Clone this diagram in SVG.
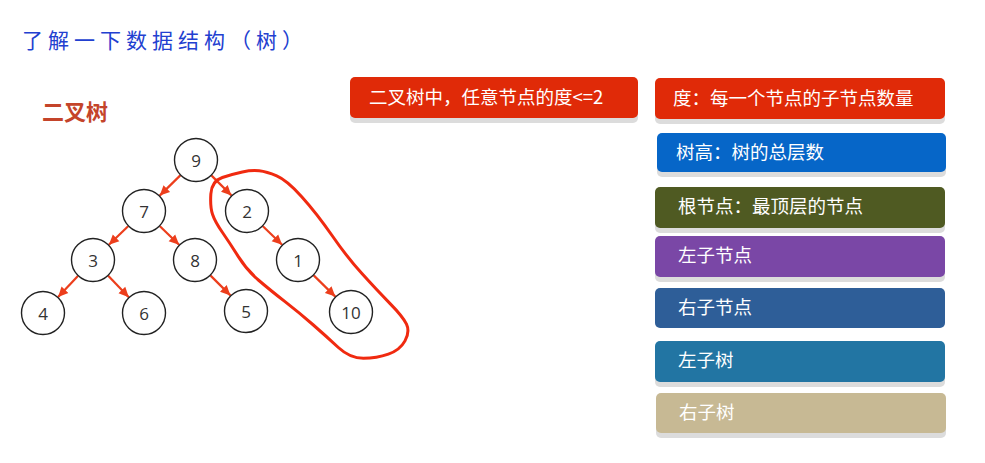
<svg xmlns="http://www.w3.org/2000/svg" width="985" height="463" viewBox="0 0 985 463">
<style>
.node circle{fill:#fff;stroke:#222;stroke-width:1.4}
.node text{font-family:"Open Sans","DejaVu Sans",sans-serif;font-size:17px;fill:#333;text-anchor:middle;dominant-baseline:central}
.edge{stroke:#ec3e1c;stroke-width:2.2;fill:none}
.box text{font-family:"Noto Sans CJK SC","Noto Sans",sans-serif;font-size:18.5px;fill:#fff}
.shadow{fill:#dcdcdc}
</style>
<defs>
<marker id="ah" markerWidth="11" markerHeight="11" refX="10" refY="5.5" orient="auto" markerUnits="userSpaceOnUse">
<path d="M0,0.8 L10,5.5 L0,10.2 Z" fill="#ec3e1c"/>
</marker>
</defs>
<rect width="985" height="463" fill="#fff"/>
<text x="22" y="48" font-family="Noto Sans CJK SC, sans-serif" font-size="21" letter-spacing="5" fill="#2240d0">了解一下数据结构（树）</text>
<text x="42" y="120" font-family="Noto Sans CJK SC, sans-serif" font-size="22" font-weight="bold" fill="#c4442a">二叉树</text>

<g id="connectors">
<line class="edge" x1="180.3" y1="175.4" x2="159.7" y2="195.6" marker-end="url(#ah)"/>
<line class="edge" x1="211.6" y1="175.6" x2="231.4" y2="195.4" marker-end="url(#ah)"/>
<line class="edge" x1="128.1" y1="226.2" x2="108.9" y2="244.8" marker-end="url(#ah)"/>
<line class="edge" x1="159.9" y1="226.2" x2="179.1" y2="244.8" marker-end="url(#ah)"/>
<line class="edge" x1="77.9" y1="276" x2="58.1" y2="297" marker-end="url(#ah)"/>
<line class="edge" x1="108.2" y1="275.8" x2="128.8" y2="297.2" marker-end="url(#ah)"/>
<line class="edge" x1="210.6" y1="275.6" x2="230.4" y2="295.4" marker-end="url(#ah)"/>
<line class="edge" x1="262.9" y1="226.2" x2="282.1" y2="244.8" marker-end="url(#ah)"/>
<line class="edge" x1="313.7" y1="275.4" x2="335.3" y2="296.6" marker-end="url(#ah)"/>
</g>

<g id="n9" class="node"><circle cx="196" cy="160" r="21.5"/><text x="196" y="160">9</text></g>
<g id="n7" class="node"><circle cx="144" cy="211" r="21.5"/><text x="144" y="211">7</text></g>
<g id="n2" class="node"><circle cx="247" cy="211" r="21.5"/><text x="247" y="211">2</text></g>
<g id="n3" class="node"><circle cx="93" cy="260" r="21.5"/><text x="93" y="260">3</text></g>
<g id="n8" class="node"><circle cx="195" cy="260" r="21.5"/><text x="195" y="260">8</text></g>
<g id="n1" class="node"><circle cx="298" cy="260" r="21.5"/><text x="298" y="260">1</text></g>
<g id="n4" class="node"><circle cx="43" cy="313" r="21.5"/><text x="43" y="313">4</text></g>
<g id="n6" class="node"><circle cx="144" cy="313" r="21.5"/><text x="144" y="313">6</text></g>
<g id="n5" class="node"><circle cx="246" cy="311" r="21.5"/><text x="246" y="311">5</text></g>
<g id="n10" class="node"><circle cx="351" cy="312" r="21.5"/><text x="351" y="312">10</text></g>

<path d="M 222.35,177.5 Q 233,174 242.35,172 Q 251.7,170 259.2,170.85 Q 266.7,171.7 276.7,175.85 Q 286.7,180 301.7,196.65 Q 316.7,213.3 331.7,235 Q 346.7,256.7 361.7,273.35 Q 376.7,290 389.85,303.35 Q 403,316.7 406.5,324.2 Q 410,331.7 405,340.85 Q 400,350 388.35,354.15 Q 376.7,358.3 363.35,358.3 Q 350,358.3 338.35,347.5 Q 326.7,336.7 313.35,325 Q 300,313.3 285,301.65 Q 270,290 258.35,280 Q 246.7,270 238.35,256.65 Q 230,243.3 222.5,232.5 Q 215,221.7 212.5,214.2 Q 210,206.7 210.85,193.85 Q 211.7,181 222.35,177.5 Z" fill="none" stroke="#f02a10" stroke-width="3" stroke-linejoin="round"/>

<g id="b1" class="box"><rect class="shadow" x="350" y="82" width="288" height="41" rx="5"/><rect x="350" y="77" width="288" height="41" rx="5" fill="#e02a08"/><text x="369" y="104">二叉树中，任意节点的度&lt;=2</text></g>
<g id="b2" class="box"><rect class="shadow" x="655" y="83" width="290" height="41" rx="5"/><rect x="655" y="78" width="290" height="41" rx="5" fill="#e02a08"/><text x="673" y="105">度：每一个节点的子节点数量</text></g>
<g id="b3" class="box"><rect class="shadow" x="657" y="138" width="289" height="39" rx="5"/><rect x="657" y="133" width="289" height="39" rx="5" fill="#0666c8"/><text x="676" y="159">树高：树的总层数</text></g>
<g id="b4" class="box"><rect class="shadow" x="655" y="192" width="290" height="41" rx="5"/><rect x="655" y="187" width="290" height="41" rx="5" fill="#4f5a22"/><text x="678" y="213">根节点：最顶层的节点</text></g>
<g id="b5" class="box"><rect class="shadow" x="655" y="241" width="290" height="41" rx="5"/><rect x="655" y="236" width="290" height="41" rx="5" fill="#7a47a6"/><text x="678" y="262">左子节点</text></g>
<g id="b6" class="box"><rect x="655" y="288" width="290" height="40" rx="5" fill="#2e5e98"/><text x="678" y="314">右子节点</text></g>
<g id="b7" class="box"><rect class="shadow" x="655" y="346" width="290" height="41" rx="5"/><rect x="655" y="341" width="290" height="41" rx="5" fill="#2275a3"/><text x="678" y="367">左子树</text></g>
<g id="b8" class="box"><rect class="shadow" x="656" y="398" width="290" height="40" rx="5"/><rect x="656" y="393" width="290" height="40" rx="5" fill="#c7b994"/><text x="679" y="419">右子树</text></g>
</svg>
